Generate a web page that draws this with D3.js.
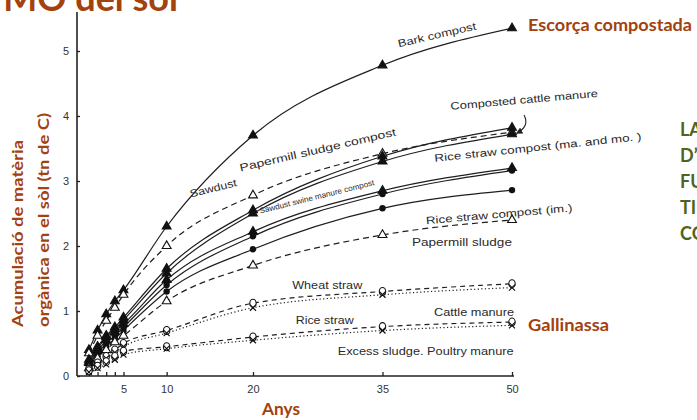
<!DOCTYPE html>
<html>
<head>
<meta charset="utf-8">
<script src="https://cdn.jsdelivr.net/npm/d3@7"></script>
<style>
  body { margin: 0; background: #fff; }
  svg { display: block; }
  .scan { font-family: "Liberation Sans", Arial, sans-serif; fill: #2a2a2a; }
  .slide { font-family: Lato, "Open Sans", sans-serif; font-weight: 700; }
</style>
</head>
<body>
<div id="chart"></div>
<script>
// years on the x axis
const years = [1, 2, 3, 4, 5, 10, 20, 35, 50];
const xTicks = [1, 2, 3, 4, 5, 10, 20, 35, 50];
const xTickLabels = ['', '', '', '', '5', '10', '20', '35', '50'];
const yTicks = [0, 1, 2, 3, 4, 5];

// accumulated organic matter (t C) per material
const bark = [0.4, 0.7, 0.95, 1.15, 1.32, 2.3, 3.7, 4.78, 5.35];
const sawdust = [0.35, 0.62, 0.85, 1.05, 1.25, 2.0, 2.78, 3.42, 3.75];
const compCattle = [0.25, 0.45, 0.62, 0.75, 0.9, 1.65, 2.55, 3.38, 3.82];
const papermillComp = [0.22, 0.42, 0.6, 0.72, 0.86, 1.58, 2.5, 3.3, 3.72];
const swineComp = [0.2, 0.38, 0.55, 0.68, 0.8, 1.48, 2.22, 2.85, 3.2];
const riceComp = [0.18, 0.35, 0.5, 0.62, 0.75, 1.4, 2.15, 2.8, 3.16];
const riceCompIm = [0.15, 0.3, 0.45, 0.57, 0.7, 1.3, 1.95, 2.58, 2.86];
const papermill = [0.12, 0.27, 0.4, 0.52, 0.62, 1.15, 1.7, 2.17, 2.4];
const wheat = [0.1, 0.2, 0.3, 0.4, 0.5, 0.7, 1.12, 1.3, 1.42];
const cattle = [0.08, 0.17, 0.27, 0.36, 0.45, 0.66, 1.05, 1.25, 1.36];
const riceStraw = [0.08, 0.15, 0.22, 0.3, 0.38, 0.45, 0.6, 0.76, 0.83];
const excess = [0.06, 0.12, 0.18, 0.25, 0.33, 0.42, 0.55, 0.7, 0.78];

// curve label texts
const labelTexts = ['Bark compost', 'Composted cattle manure', 'Papermill sludge compost', 'Sawdust',
  'Sawdust swine manure compost', 'Rice straw compost (ma. and mo. )', 'Rice straw compost (im.)',
  'Papermill sludge', 'Wheat straw', 'Cattle manure', 'Rice straw', 'Excess sludge. Poultry manure'];

const W = 697, H = 420;
const BROWN = '#a3410f', GREEN = '#4f6420';

const series = [
  { v: bark, dash: null, mark: 'triF' },
  { v: sawdust, dash: '6,4', mark: 'triO' },
  { v: compCattle, dash: null, mark: 'triF' },
  { v: papermillComp, dash: null, mark: 'triF' },
  { v: swineComp, dash: null, mark: 'triF' },
  { v: riceComp, dash: null, mark: 'dot' },
  { v: riceCompIm, dash: null, mark: 'dot' },
  { v: papermill, dash: '6,4', mark: 'triO' },
  { v: wheat, dash: '5,4', mark: 'circ' },
  { v: cattle, dash: '1.2,2.4', mark: 'cross' },
  { v: riceStraw, dash: '5,4', mark: 'circ' },
  { v: excess, dash: '1.2,2.4', mark: 'cross' }
];

// label placement: [year, value, rotation, width]
const labelPos = [
  [41.3, 5.25, -13, 80], [51.4, 4.25, -5, 148], [27.5, 3.48, -13, 160], [15.4, 2.89, -14, 48],
  [27.4, 2.76, -14, 118], [53.0, 3.52, -6, 208], [48.5, 2.49, -5, 147], [44.2, 2.05, 0, 100],
  [28.6, 1.40, 0, 70], [45.6, 0.98, 0, 80], [28.3, 0.85, 0, 58], [40.0, 0.38, 0, 176]
];

const svg = d3.select('#chart').append('svg').attr('width', W).attr('height', H);

const x = d3.scaleLinear().domain([0, 50]).range([80.3, 512]);
const y = d3.scaleLinear().domain([0, 5.6]).range([376, 12]);

// axes
const gx = svg.append('g').attr('transform', 'translate(0,376)').attr('class', 'scan');
gx.call(d3.axisBottom(x).tickValues(xTicks).tickSize(-4).tickPadding(9)
  .tickFormat((d, i) => xTickLabels[i]));
gx.select('.domain').attr('d', 'M77,0H514').attr('stroke', '#222').attr('stroke-width', 1.6);

const gy = svg.append('g').attr('transform', 'translate(77,0)').attr('class', 'scan');
gy.call(d3.axisLeft(y).tickValues(yTicks).tickSize(-3).tickPadding(8).tickFormat(d3.format('d')));
gy.select('.domain').attr('d', 'M0,376V12').attr('stroke', '#222').attr('stroke-width', 1.6);

svg.selectAll('.tick line').attr('stroke', '#222').attr('stroke-width', 1.3);
svg.selectAll('.tick text').attr('font-size', 11).attr('fill', '#333')
  .attr('font-family', '"Liberation Sans", Arial, sans-serif');

// curves
const line = d3.line().x((d, i) => x(years[i])).y(d => y(d)).curve(d3.curveMonotoneX);
const gs = svg.append('g');
series.forEach(s => {
  gs.append('path').attr('d', line(s.v)).attr('fill', 'none')
    .attr('stroke', '#1e1e1e').attr('stroke-width', 1.2)
    .attr('stroke-dasharray', s.dash);
});

// markers
const tri = d3.symbol().type(d3.symbolTriangle).size(34);
series.forEach(s => {
  const g = gs.append('g');
  s.v.forEach((v, i) => {
    const px = x(years[i]), py = y(v);
    if (s.mark === 'triF' || s.mark === 'triO') {
      g.append('path').attr('d', tri()).attr('transform', `translate(${px},${py})`)
        .attr('fill', s.mark === 'triF' ? '#111' : '#fff').attr('stroke', '#111').attr('stroke-width', 1.1);
    } else if (s.mark === 'dot') {
      g.append('circle').attr('cx', px).attr('cy', py).attr('r', 3.2).attr('fill', '#111');
    } else if (s.mark === 'circ') {
      g.append('ellipse').attr('cx', px).attr('cy', py).attr('rx', 3.2).attr('ry', 4)
        .attr('fill', '#fff').attr('stroke', '#111').attr('stroke-width', 1.1);
    } else {
      g.append('path').attr('d', `M${px - 3},${py - 3}L${px + 3},${py + 3}M${px + 3},${py - 3}L${px - 3},${py + 3}`)
        .attr('stroke', '#111').attr('stroke-width', 1.2);
    }
  });
});

// curve labels
svg.append('g').attr('class', 'scan').selectAll('text').data(labelTexts).join('text')
  .attr('transform', (d, i) => `translate(${x(labelPos[i][0])},${y(labelPos[i][1])}) rotate(${labelPos[i][2]})`)
  .attr('text-anchor', 'middle').attr('dy', '0.35em')
  .attr('font-size', (d, i) => i === 4 ? 8 : 10.5)
  .attr('textLength', (d, i) => labelPos[i][3]).attr('lengthAdjust', 'spacingAndGlyphs')
  .text(d => d);

// arrow to composted cattle manure end point
svg.append('defs').append('marker').attr('id', 'ah').attr('viewBox', '0 0 10 10')
  .attr('refX', 8).attr('refY', 5).attr('markerWidth', 6).attr('markerHeight', 6).attr('orient', 'auto')
  .append('path').attr('d', 'M0,0L10,5L0,10Z').attr('fill', '#222');
svg.append('path').attr('d', 'M524,115 Q530,126 517,133').attr('fill', 'none')
  .attr('stroke', '#222').attr('stroke-width', 1.1).attr('marker-end', 'url(#ah)');

// slide texts
svg.append('text').attr('class', 'slide').attr('x', 178).attr('y', 11).attr('text-anchor', 'end')
  .attr('font-size', 36).attr('fill', BROWN).text('MO del sòl');
svg.append('text').attr('class', 'slide').attr('x', 528).attr('y', 31)
  .attr('font-size', 17).attr('textLength', 164).attr('lengthAdjust', 'spacingAndGlyphs')
  .attr('fill', BROWN).text('Escorça compostada');
svg.append('text').attr('class', 'slide').attr('x', 528).attr('y', 331)
  .attr('font-size', 17).attr('textLength', 81).attr('lengthAdjust', 'spacingAndGlyphs')
  .attr('fill', BROWN).text('Gallinassa');
svg.append('text').attr('class', 'slide').attr('x', 262).attr('y', 415)
  .attr('font-size', 17).attr('textLength', 38).attr('lengthAdjust', 'spacingAndGlyphs')
  .attr('fill', BROWN).text('Anys');

const yl = svg.append('text').attr('class', 'slide').attr('transform', 'translate(0,327) rotate(-90)')
  .attr('text-anchor', 'start').attr('font-size', 15).attr('fill', BROWN);
yl.append('tspan').attr('x', 0).attr('y', 23).attr('textLength', 187).attr('lengthAdjust', 'spacingAndGlyphs')
  .text('Acumulació de matèria');
yl.append('tspan').attr('x', 0).attr('y', 49).attr('textLength', 214).attr('lengthAdjust', 'spacingAndGlyphs')
  .text('orgànica en el sòl (tn de C)');

['LA', 'D’', 'FU', 'TI', 'CO'].forEach((t, i) => {
  svg.append('text').attr('class', 'slide').attr('x', 680).attr('y', 136 + i * 26)
    .attr('font-size', 18).attr('fill', GREEN).text(t);
});
</script>
</body>
</html>
